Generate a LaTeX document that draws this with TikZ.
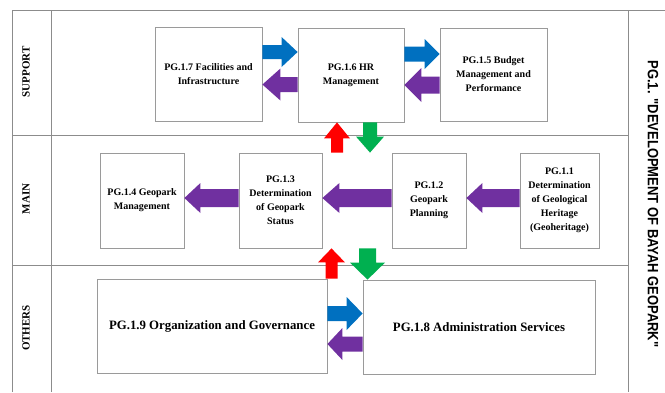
\documentclass[tikz,border=0pt]{standalone}
\usepackage{fontspec}
\setmainfont{Liberation Serif}
\newfontfamily\titlefont{Liberation Sans}
\usetikzlibrary{calc}
\definecolor{flowblue}{HTML}{0070C0}
\definecolor{flowpurple}{HTML}{7030A0}
\definecolor{flowred}{HTML}{FF0000}
\definecolor{flowgreen}{HTML}{00B050}
\definecolor{framegray}{HTML}{8C8C8C}
\definecolor{boxgray}{HTML}{9A9A9A}

% horizontal block arrow: colour, tail point, tip point, shaft half-height, head half-height, signed head length
\newcommand{\hblk}[6]{%
  \fill[#1] ($(#2)+(0,-#4)$) -- ($(#3)+(#6,-#4)$) -- ($(#3)+(#6,-#5)$) -- (#3)
    -- ($(#3)+(#6,#5)$) -- ($(#3)+(#6,#4)$) -- ($(#2)+(0,#4)$) -- cycle;}
% vertical block arrow: colour, tail point, tip point, shaft half-width, head half-width, signed head length
\newcommand{\vblk}[6]{%
  \fill[#1] ($(#2)+(-#4,0)$) -- ($(#3)+(-#4,#6)$) -- ($(#3)+(-#5,#6)$) -- (#3)
    -- ($(#3)+(#5,#6)$) -- ($(#3)+(#4,#6)$) -- ($(#2)+(#4,0)$) -- cycle;}

\begin{document}
\begin{tikzpicture}[x=1pt,y=-1pt,
  procbox/.style={draw=boxgray,line width=0.8pt,fill=white,align=center,inner sep=2pt,
    font=\bfseries\fontsize{10}{14}\selectfont},
  bigbox/.style={procbox,font=\bfseries\fontsize{12.8}{15}\selectfont},
  lanelabel/.style={rotate=90,font=\bfseries\fontsize{11}{13}\selectfont},
  frameline/.style={draw=framegray,line width=0.8pt}]
\useasboundingbox (0,0) rectangle (665,392);

% swimlane frame
\draw[frameline] (12,392) -- (12,10) -- (665,10);
\draw[frameline] (51,10) -- (51,392);
\draw[frameline] (628,10) -- (628,392);
\draw[frameline] (12,135) -- (628,135);
\draw[frameline] (12,265) -- (628,265);

% lane labels
\node[lanelabel] (lsupport) at (26,72) {SUPPORT};
\node[lanelabel] (lmain) at (26,199) {MAIN};
\node[lanelabel] (lothers) at (26,328) {OTHERS};
\node[rotate=-90,font=\titlefont\bfseries\fontsize{13}{15}\selectfont] (title) at (653,204)
  {\scalebox{1}[1.15]{PG.1. "DEVELOPMENT OF BAYAH GEOPARK"}};

% support processes
\node[procbox,minimum width=107pt,minimum height=94pt] (n17) at (208.5,74) {PG.1.7 Facilities and\\Infrastructure};
\node[procbox,minimum width=106pt,minimum height=94pt] (n16) at (351,75) {PG.1.6 HR\\Management};
\node[procbox,minimum width=107pt,minimum height=93pt] (n15) at (493.5,74.5) {PG.1.5 Budget\\Management and\\Performance};

% main processes
\node[procbox,minimum width=84pt,minimum height=95pt] (n14) at (142,200.5) {PG.1.4 Geopark\\Management};
\node[procbox,minimum width=83pt,minimum height=95pt] (n13) at (280.5,200.5) {PG.1.3\\Determination\\of Geopark\\Status};
\node[procbox,minimum width=74pt,minimum height=95pt] (n12) at (429,200.5) {PG.1.2\\Geopark\\Planning};
\node[procbox,minimum width=79pt,minimum height=95pt] (n11) at (559.5,200.5) {PG.1.1\\Determination\\of Geological\\Heritage\\(Geoheritage)};

% other processes
\node[bigbox,minimum width=230pt,minimum height=94pt] (n19) at (212,326) {PG.1.9 Organization and Governance};
\node[bigbox,minimum width=232pt,minimum height=94pt] (n18) at (479,327) {PG.1.8 Administration Services};

% support lane flows
\hblk{flowblue}{n17.east |- 0,52}{n16.west |- 0,52}{7}{15}{-16}
\hblk{flowpurple}{n16.west |- 0,84.5}{n17.east |- 0,84.5}{7.5}{16}{18}
\hblk{flowblue}{n16.east |- 0,54}{n15.west |- 0,54}{7.5}{15}{-15}
\hblk{flowpurple}{n15.west |- 0,85}{n16.east |- 0,85}{8.5}{17}{17}

% main lane flows
\hblk{flowpurple}{n13.west |- 0,198}{n14.east |- 0,198}{9}{15}{16}
\hblk{flowpurple}{n12.west |- 0,198}{n13.east |- 0,198}{9}{15}{17}
\hblk{flowpurple}{n11.west |- 0,198}{n12.east |- 0,198}{9}{15}{16}

% flows between lanes
\vblk{flowred}{337,0 |- n13.north}{337,0 |- n16.south}{6}{13}{16}
\vblk{flowgreen}{370,0 |- n16.south}{370,0 |- n12.north}{7}{14}{-16}
\vblk{flowred}{331.5,0 |- n19.north}{331.5,0 |- n13.south}{6}{13.5}{14}
\vblk{flowgreen}{367.5,0 |- n13.south}{367.5,0 |- n18.north}{8.5}{17.5}{-17}

% other lane flows
\hblk{flowblue}{n19.east |- 0,313.5}{n18.west |- 0,313.5}{7.5}{16.5}{-16}
\hblk{flowpurple}{n18.west |- 0,344}{n19.east |- 0,344}{7.5}{16}{15}
\end{tikzpicture}
\end{document}
